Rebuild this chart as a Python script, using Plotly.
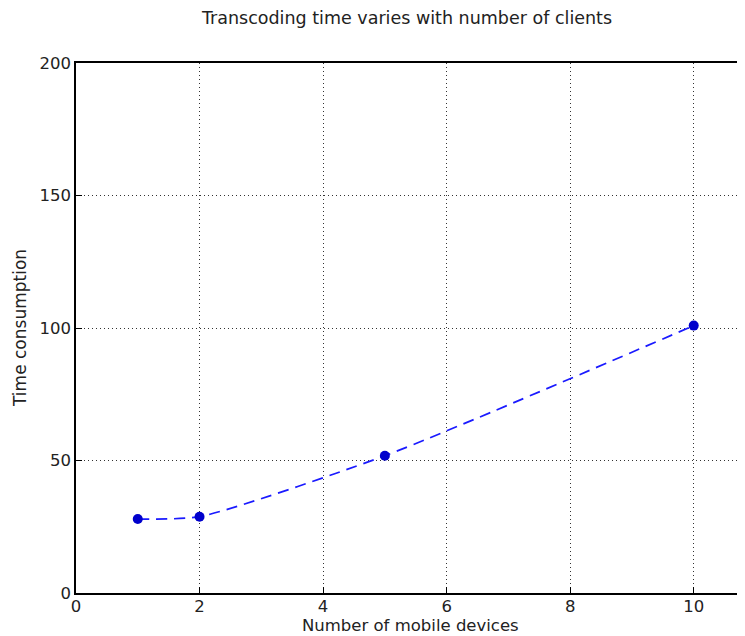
import plotly.graph_objects as go

devices = [1, 2, 5, 10]
time_consumption = [27.9, 28.8, 51.8, 100.9]
x_ticks = [0, 2, 4, 6, 8, 10]
y_ticks = [0, 50, 100, 150, 200]

W, H = 737, 628
L, R, T, B = 68, 0, 55, 43

fig = go.Figure()
fig.add_trace(go.Scatter(
    x=devices, y=time_consumption, mode="lines+markers",
    line=dict(color="#1a1aff", width=1.7, dash="11px,7px", shape="spline", smoothing=0.6),
    marker=dict(color="#0000cc", size=10, line=dict(width=0)),
    showlegend=False,
))

font = "DejaVu Sans, sans-serif"
txt = "#222222"
fig.update_layout(
    width=W, height=H,
    margin=dict(l=L, r=R, t=T, b=B, autoexpand=False),
    paper_bgcolor="white", plot_bgcolor="white",
    font=dict(family=font, color=txt),
    title=dict(text="Transcoding time varies with number of clients",
               x=399 / W, xanchor="center", xref="container",
               y=1 - 10 / H, yanchor="middle", yref="container",
               font=dict(size=17.5, family=font, color=txt)),
    annotations=[
        dict(text="Number of mobile devices", xref="paper", yref="paper",
             x=0.5, y=0, xanchor="center", yanchor="middle", yshift=-32,
             showarrow=False, font=dict(size=16.5, family=font, color=txt)),
        dict(text="Time consumption", xref="paper", yref="paper",
             x=0, y=0.5, xanchor="center", yanchor="middle", xshift=-56,
             textangle=-90, showarrow=False, font=dict(size=17, family=font, color=txt)),
    ],
)
fig.update_xaxes(
    range=[0, 10.83], tickvals=x_ticks, ticktext=[str(v) for v in x_ticks],
    showgrid=True, gridcolor="#333333", griddash="1px,3px", gridwidth=1,
    showline=True, linecolor="black", linewidth=1.5, mirror=True,
    ticks="inside", ticklen=6, tickcolor="black", ticklabelstandoff=-3,
    tickfont=dict(size=16.5, family=font, color=txt),
    zeroline=False, automargin=False,
)
fig.update_yaxes(
    range=[0, 200], tickvals=y_ticks, ticktext=[str(v) for v in y_ticks],
    showgrid=True, gridcolor="#333333", griddash="1px,3px", gridwidth=1,
    showline=True, linecolor="black", linewidth=1.5, mirror=False,
    ticks="inside", ticklen=6, tickcolor="black",
    tickfont=dict(size=16.5, family=font, color=txt),
    zeroline=False, automargin=False,
)
fig.write_html("out.html")
